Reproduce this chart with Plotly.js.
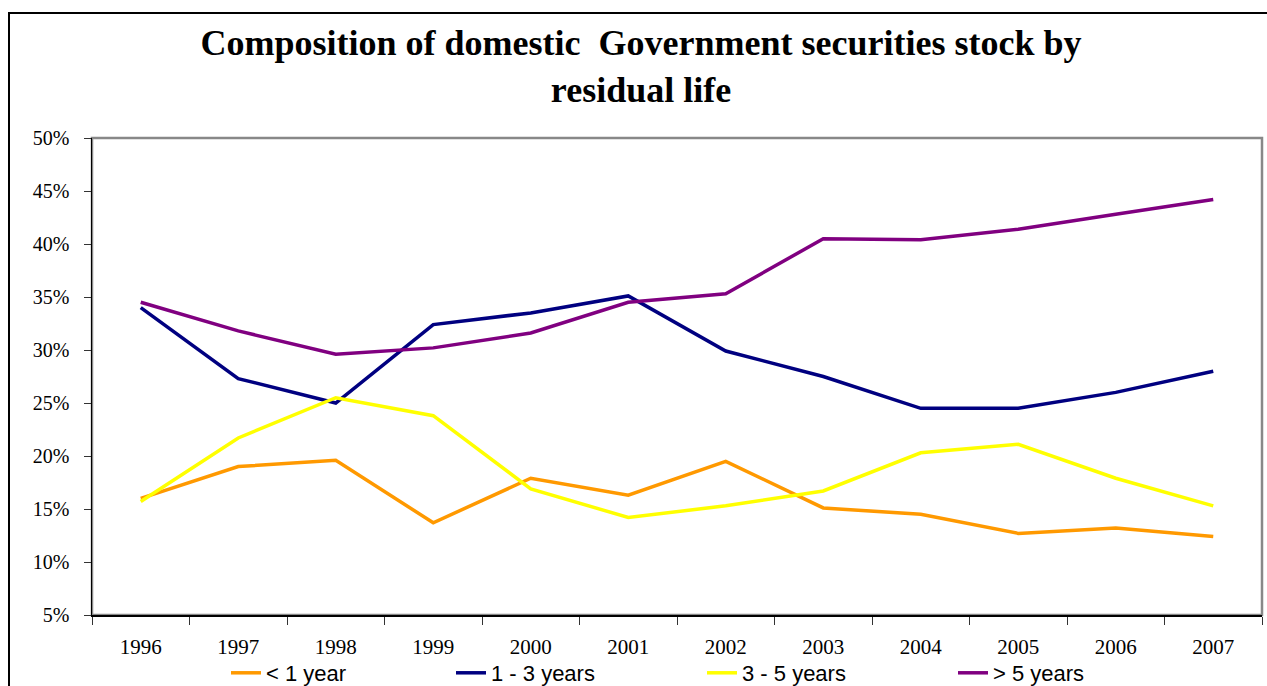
<!DOCTYPE html>
<html>
<head>
<meta charset="utf-8">
<script src="https://cdn.plot.ly/plotly-3.0.1.min.js"></script>
<style>
  html, body { margin: 0; padding: 0; background: #fff; overflow: hidden; }
  #chart { position: absolute; left: 0; top: 0; width: 1267px; height: 686px; }
  #frame { position: absolute; left: 8px; top: 12px; width: 1300px; height: 700px;
           border-top: 2px solid #000; border-left: 2px solid #000; pointer-events: none; }
</style>
</head>
<body>
<div id="chart"></div>
<div id="frame"></div>
<script>
const years = ['1996','1997','1998','1999','2000','2001','2002','2003','2004','2005','2006','2007'];
const seriesNames = ['< 1 year', '1 - 3 years', '3 - 5 years', '> 5 years'];
const lessThan1 = [16.0, 19.0, 19.6, 13.7, 17.9, 16.3, 19.5, 15.1, 14.5, 12.7, 13.2, 12.4];
const oneToThree = [34.0, 27.3, 25.0, 32.4, 33.5, 35.1, 29.9, 27.5, 24.5, 24.5, 26.0, 28.0];
const threeToFive = [15.7, 21.7, 25.5, 23.8, 16.9, 14.2, 15.3, 16.7, 20.3, 21.1, 17.9, 15.3];
const moreThan5 = [34.5, 31.8, 29.6, 30.2, 31.6, 34.5, 35.3, 40.5, 40.4, 41.4, 42.8, 44.2];

const colors = ['#FF9900', '#000080', '#FFFF00', '#800080'];
const values = [lessThan1, oneToThree, threeToFive, moreThan5];
const legendIds = ['legend', 'legend2', 'legend3', 'legend4'];
const legendX = [226, 451, 702, 953];

const traces = values.map((v, i) => ({
  type: 'scatter', mode: 'lines', x: years, y: v, name: seriesNames[i],
  line: { color: colors[i], width: 3.5 }, legend: legendIds[i]
}));

const W = 1267, H = 686;
const legendFont = { family: 'Liberation Sans, Arial, sans-serif', size: 22, color: '#000' };
const layout = {
  width: W, height: H,
  margin: { l: 92, r: 5, t: 138, b: 71 },
  paper_bgcolor: '#fff', plot_bgcolor: '#fff',
  font: { family: 'Liberation Serif, Times New Roman, serif', color: '#000' },
  title: {
    text: 'Composition of domestic\u00a0 Government securities stock by<br>residual life',
    font: { family: 'Liberation Serif, Times New Roman, serif', size: 36, color: '#000', weight: 'bold' },
    x: 641 / W, xanchor: 'center', xref: 'container',
    y: 1 - 55 / H, yanchor: 'top', yref: 'container'
  },
  xaxis: {
    type: 'category', range: [-0.5, 11.5], tickson: 'boundaries',
    showline: true, linecolor: '#000', linewidth: 1.5,
    ticks: 'outside', ticklen: 8, tickcolor: '#333', tickwidth: 1,
    showgrid: false, zeroline: false, fixedrange: true,
    tickfont: { family: 'Liberation Serif, Times New Roman, serif', size: 21, color: '#000' },
    ticklabelstandoff: 12
  },
  yaxis: {
    range: [5, 50], dtick: 5, tick0: 5, ticksuffix: '%',
    showline: true, linecolor: '#000', linewidth: 1.5,
    ticks: 'outside', ticklen: 7, tickcolor: '#333', tickwidth: 1,
    showgrid: false, zeroline: false, fixedrange: true,
    tickfont: { family: 'Liberation Serif, Times New Roman, serif', size: 20, color: '#000' },
    ticklabelstandoff: 10
  },
  shapes: [{
    type: 'rect', xref: 'paper', yref: 'paper', x0: 0, x1: 1, y0: 0, y1: 1,
    line: { color: '#888', width: 2.5 }, layer: 'below'
  }],
  showlegend: true
};
legendIds.forEach((id, i) => {
  layout[id] = {
    orientation: 'h', xref: 'container', yref: 'container',
    x: legendX[i] / W, xanchor: 'left', y: 1 - 673 / H, yanchor: 'middle',
    font: legendFont, bgcolor: 'rgba(0,0,0,0)', borderwidth: 0
  };
});

Plotly.newPlot('chart', traces, layout, { displayModeBar: false, staticPlot: true });
</script>
</body>
</html>
